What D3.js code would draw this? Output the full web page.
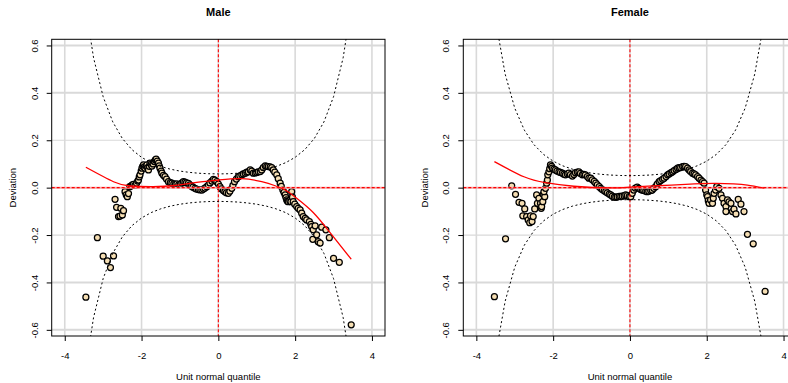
<!DOCTYPE html>
<html>
<head>
<meta charset="utf-8">
<script src="https://cdn.jsdelivr.net/npm/d3@7"></script>
<style>
  html, body { margin: 0; padding: 0; background: #fff; }
  svg { display: block; }
  text { font-family: "Liberation Sans", Arial, Helvetica, sans-serif; }
</style>
</head>
<body>
<svg id="chart" width="788" height="383"></svg>
<script>
// ---------------- data ----------------
const panelTitles = ["Male", "Female"];
const xTicks = [-4, -2, 0, 2, 4];
const yTicks = [-0.6, -0.4, -0.2, 0.0, 0.2, 0.4, 0.6];
const xLabel = "Unit normal quantile";
const yLabel = "Deviation";

// worm points [unit normal quantile, deviation]
const maleX = [-3.45,-3.15,-3.0,-2.89,-2.81,-2.73,-2.69,-2.65,-2.60,-2.56,-2.54,-2.50,-2.47,
 -2.43,-2.40,-2.37,-2.34,-2.31,-2.27,-2.24,-2.21,-2.17,-2.13,-2.10,-2.08,-2.06,-2.04,-2.01,-1.99,-1.97,-1.95,-1.93,-1.91,-1.88,-1.86,-1.84,-1.82,-1.80,-1.78,-1.75,-1.73,-1.70,-1.67,-1.64,-1.62,-1.59,-1.56,-1.54,-1.52,-1.49,-1.47,-1.43,-1.39,-1.35,-1.30,-1.25,-1.21,-1.16,-1.12,-1.08,-1.03,-0.99,-0.95,-0.91,-0.87,-0.83,-0.78,-0.74,-0.70,-0.66,-0.61,-0.57,-0.52,-0.48,-0.43,-0.39,-0.35,-0.30,-0.26,-0.22,-0.17,-0.13,-0.09,-0.04,0.0,0.04,0.08,0.13,0.17,0.21,0.26,0.30,0.35,0.38,0.42,0.47,0.52,0.56,0.61,0.65,0.70,0.74,0.78,0.83,0.87,0.91,0.96,1.0,1.04,1.09,1.13,1.17,1.22,1.26,1.30,1.35,1.39,1.43,1.47,1.52,1.56,1.61,1.64,1.68,1.71,1.74,1.76,1.78,1.80,1.82,1.86,1.89,1.91,1.93,1.95,1.99,2.04,2.08,2.13,2.17,2.21,2.26,2.30,2.37,2.41,2.43,2.46,2.47,2.52,2.56,2.60,2.65,2.69,2.80,2.89,3.0,3.15,3.46];
const maleY = [-0.462,-0.211,-0.289,-0.309,-0.337,-0.288,-0.049,-0.083,-0.122,-0.120,-0.087,-0.115,-0.097,
 -0.017,-0.030,-0.038,-0.025,0.004,0.008,0.012,0.014,0.010,0.019,0.028,0.032,0.045,0.054,0.070,0.082,0.090,0.096,0.088,0.082,0.090,0.096,0.085,0.075,0.090,0.103,0.098,0.091,0.100,0.110,0.117,0.120,0.112,0.103,0.092,0.082,0.070,0.061,0.052,0.046,0.036,0.025,0.021,0.019,0.016,0.014,0.016,0.013,0.014,0.020,0.025,0.023,0.020,0.018,0.012,0.006,0.002,-0.003,-0.006,-0.008,-0.009,-0.010,-0.006,-0.002,0.004,0.011,0.020,0.028,0.035,0.032,0.025,0.015,0.004,-0.005,-0.012,-0.017,-0.022,-0.024,-0.015,-0.003,0.010,0.025,0.036,0.046,0.050,0.054,0.058,0.061,0.065,0.067,0.075,0.070,0.061,0.062,0.064,0.067,0.068,0.075,0.085,0.092,0.090,0.089,0.088,0.084,0.075,0.065,0.054,0.038,0.019,0.005,-0.010,-0.020,-0.031,-0.042,-0.052,-0.057,-0.059,-0.055,-0.059,-0.017,-0.040,-0.059,-0.070,-0.080,-0.087,-0.094,-0.108,-0.122,-0.130,-0.136,-0.143,-0.155,-0.164,-0.218,-0.178,-0.161,-0.199,-0.228,-0.234,-0.167,-0.178,-0.211,-0.298,-0.315,-0.579];

const femaleX = [-3.53,-3.24,-3.08,-2.98,-2.89,-2.81,-2.79,-2.74,-2.69,-2.65,-2.61,-2.59,-2.55,-2.52,-2.48,-2.43,-2.41,-2.37,-2.33,-2.31,-2.30,-2.27,-2.26,-2.22,-2.24,-2.20,-2.17,-2.15,-2.14,-2.11,-2.09,-2.07,-2.04,-2.02,-1.98,-1.94,-1.90,-1.85,-1.81,-1.76,-1.72,-1.68,-1.63,-1.59,-1.55,-1.50,-1.46,-1.42,-1.37,-1.33,-1.29,-1.24,-1.20,-1.16,-1.11,-1.07,-1.02,-0.98,-0.93,-0.89,-0.85,-0.80,-0.76,-0.72,-0.67,-0.63,-0.59,-0.54,-0.50,-0.46,-0.41,-0.37,-0.33,-0.28,-0.24,-0.20,-0.15,-0.11,-0.07,-0.02,0.02,0.06,0.10,0.14,0.19,0.23,0.28,0.32,0.36,0.41,0.45,0.49,0.54,0.58,0.62,0.67,0.71,0.76,0.80,0.85,0.89,0.94,0.98,1.02,1.07,1.11,1.15,1.20,1.24,1.28,1.32,1.37,1.41,1.45,1.50,1.54,1.58,1.63,1.67,1.71,1.76,1.80,1.85,1.89,1.93,1.97,2.0,2.02,2.04,2.06,2.10,2.15,2.17,2.19,2.23,2.26,2.32,2.37,2.41,2.45,2.50,2.50,2.54,2.58,2.63,2.67,2.71,2.76,2.82,2.89,2.97,3.06,3.21,3.52];
const femaleY = [-0.460,-0.216,0.008,-0.028,-0.062,-0.066,-0.119,-0.090,-0.122,-0.136,-0.148,-0.119,-0.143,-0.122,-0.090,-0.031,-0.066,-0.045,-0.066,-0.087,-0.080,-0.059,-0.028,-0.038,-0.017,-0.003,0.019,0.032,0.054,0.067,0.080,0.096,0.090,0.082,0.078,0.075,0.070,0.067,0.064,0.061,0.057,0.054,0.058,0.061,0.055,0.049,0.056,0.063,0.066,0.067,0.060,0.054,0.056,0.054,0.047,0.040,0.040,0.033,0.026,0.019,0.012,0.004,-0.003,-0.008,-0.013,-0.017,-0.022,-0.027,-0.031,-0.036,-0.040,-0.040,-0.039,-0.037,-0.037,-0.036,-0.034,-0.031,-0.034,-0.038,-0.038,-0.024,-0.010,-0.002,0.002,-0.003,-0.008,-0.010,-0.012,-0.015,-0.017,-0.015,-0.012,-0.010,-0.003,0.004,0.015,0.025,0.030,0.035,0.040,0.047,0.054,0.058,0.063,0.067,0.072,0.077,0.082,0.084,0.085,0.089,0.090,0.089,0.082,0.075,0.068,0.061,0.058,0.054,0.047,0.040,0.032,0.025,0.019,-0.010,-0.030,-0.038,-0.055,-0.066,-0.052,-0.066,-0.045,-0.024,-0.010,0.004,-0.003,-0.031,-0.045,-0.066,-0.080,-0.101,-0.052,-0.060,-0.066,-0.101,-0.091,-0.111,-0.049,-0.070,-0.101,-0.197,-0.237,-0.438];

// fitted cubic (red)
const maleFitX = [-3.45,-2.73,-2.30,-1.70,-1.13,-0.61,0.0,0.61,1.13,1.48,1.74,2.04,2.47,2.91,3.46];
const maleFitY = [0.086,0.025,0.007,0.004,0.009,0.021,0.032,0.038,0.025,0.008,-0.010,-0.045,-0.105,-0.190,-0.302];
const femaleFitX = [-3.53,-2.76,-2.20,-1.46,-0.50,0.0,0.70,1.45,2.19,2.70,3.06,3.50];
const femaleFitY = [0.110,0.046,0.021,0.006,-0.001,0.002,0.008,0.014,0.018,0.016,0.011,-0.002];

// half-width of the 95% confidence band at quantiles 0, 0.25, ..., 3.75 (mirrored)
const bandZ = [0,0.25,0.5,0.75,1.0,1.25,1.5,1.75,2.0,2.25,2.5,2.75,3.0,3.25,3.5,3.75];
const maleBand = [0.0580,0.0587,0.0607,0.0644,0.0699,0.0779,0.0893,0.1052,0.1279,0.1603,0.2075,0.2775,0.3836,0.5480,0.8091,1.2346];
const femaleBand = [0.0508,0.0513,0.0531,0.0563,0.0612,0.0682,0.0781,0.0921,0.1118,0.1402,0.1815,0.2428,0.3355,0.4794,0.7078,1.0800];

// ---------------- drawing ----------------
const svg = d3.select("#chart");
svg.append("rect").attr("width", 788).attr("height", 383).attr("fill", "#fff");

const panels = [
  { title: panelTitles[0], left: 51.7, xs: maleX, ys: maleY, fx: maleFitX, fy: maleFitY, band: maleBand },
  { title: panelTitles[1], left: 463.3, xs: femaleX, ys: femaleY, fx: femaleFitX, fy: femaleFitY, band: femaleBand }
];
const boxW = 333.3, plotTop = 39.3, plotBottom = 336;

panels.forEach((p, i) => {
  const x = d3.scaleLinear().domain([-4.34, 4.34]).range([p.left, p.left + boxW]);
  const y = d3.scaleLinear().domain([-0.626, 0.626]).range([plotBottom, plotTop]);
  const g = svg.append("g");
  const clipId = "clip" + i;
  g.append("clipPath").attr("id", clipId).append("rect")
    .attr("x", p.left).attr("y", plotTop).attr("width", boxW).attr("height", plotBottom - plotTop);

  // grid
  const grid = g.append("g").attr("clip-path", `url(#${clipId})`);
  xTicks.forEach(t => grid.append("line")
    .attr("x1", x(t)).attr("x2", x(t)).attr("y1", plotTop).attr("y2", plotBottom)
    .attr("stroke", "#d9d9d9").attr("stroke-width", 1.6));
  yTicks.forEach(t => grid.append("line")
    .attr("x1", p.left).attr("x2", p.left + boxW).attr("y1", y(t)).attr("y2", y(t))
    .attr("stroke", "#d9d9d9").attr("stroke-width", Math.abs(t) > 0.3 ? 2 : 1.2));

  // points
  const pts = p.xs.map((v, k) => [v, p.ys[k]]);
  g.append("g").attr("clip-path", `url(#${clipId})`)
    .selectAll("circle").data(pts).join("circle")
    .attr("cx", d => x(d[0])).attr("cy", d => y(d[1])).attr("r", 3)
    .attr("fill", "#F5DEB3").attr("stroke", "#000").attr("stroke-width", 1.25);

  // zero reference lines
  g.append("line").attr("x1", p.left).attr("x2", p.left + boxW).attr("y1", y(0)).attr("y2", y(0))
    .attr("stroke", "#f4a8a8").attr("stroke-width", 2);
  g.append("line").attr("x1", p.left).attr("x2", p.left + boxW).attr("y1", y(0)).attr("y2", y(0))
    .attr("stroke", "red").attr("stroke-width", 1.4).attr("stroke-dasharray", "3,2");
  g.append("line").attr("x1", x(0)).attr("x2", x(0)).attr("y1", plotTop).attr("y2", plotBottom)
    .attr("stroke", "red").attr("stroke-width", 1.1).attr("stroke-dasharray", "3,2");

  // confidence bands
  const zs = bandZ.slice(1).map(z => -z).reverse().concat(bandZ);
  const hw = p.band.slice(1).reverse().concat(p.band);
  const up = zs.map((z, k) => [z, hw[k]]);
  const lo = zs.map((z, k) => [z, -hw[k]]);
  const line = d3.line().x(d => x(d[0])).y(d => y(d[1]));
  const bandG = g.append("g").attr("clip-path", `url(#${clipId})`);
  [up, lo].forEach(b => bandG.append("path").attr("d", line(b))
    .attr("fill", "none").attr("stroke", "#000").attr("stroke-width", 1)
    .attr("stroke-dasharray", "2,2.5"));

  // fitted curve
  const fit = p.fx.map((v, k) => [v, p.fy[k]]);
  g.append("path").attr("d", d3.line().curve(d3.curveNatural).x(d => x(d[0])).y(d => y(d[1]))(fit))
    .attr("fill", "none").attr("stroke", "red").attr("stroke-width", 1.3);

  // box
  g.append("rect").attr("x", p.left).attr("y", plotTop).attr("width", boxW).attr("height", plotBottom - plotTop)
    .attr("fill", "none").attr("stroke", "#000").attr("stroke-width", 1);

  // axes
  const ax = g.append("g").attr("transform", `translate(0,${plotBottom})`)
    .call(d3.axisBottom(x).tickValues(xTicks).tickSize(5).tickSizeOuter(0).tickFormat(d => String(d)));
  ax.select(".domain").remove();
  ax.selectAll("text").attr("y", 22.5).attr("dy", 0).attr("font-size", 9.5)
    .attr("font-family", "Liberation Sans, Arial, sans-serif").attr("fill", "#000");

  const ay = g.append("g").attr("transform", `translate(${p.left},0)`)
    .call(d3.axisLeft(y).tickValues(yTicks).tickSize(5).tickSizeOuter(0).tickFormat(d => d.toFixed(1)));
  ay.select(".domain").remove();
  ay.selectAll("text").attr("x", null).attr("dy", 0).attr("text-anchor", "middle")
    .attr("transform", "translate(-14,0) rotate(-90)").attr("font-size", 9.5)
    .attr("font-family", "Liberation Sans, Arial, sans-serif").attr("fill", "#000");

  // titles and labels
  const cx = p.left + boxW / 2;
  g.append("text").attr("x", cx).attr("y", 16).attr("text-anchor", "middle")
    .attr("font-size", 11).attr("font-weight", "bold").text(p.title);
  g.append("text").attr("x", cx).attr("y", 379.5).attr("text-anchor", "middle")
    .attr("font-size", 9.5).text(xLabel);
  g.append("text").attr("transform", `translate(${p.left - 35.5},${(plotTop + plotBottom) / 2}) rotate(-90)`)
    .attr("text-anchor", "middle").attr("font-size", 9.5).text(yLabel);
});
</script>
</body>
</html>
